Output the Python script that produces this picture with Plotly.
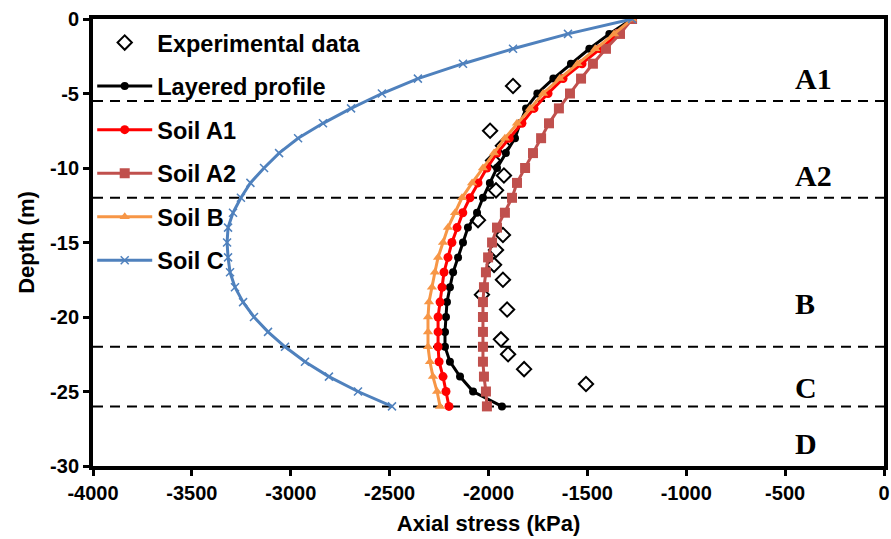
import plotly.graph_objects as go

# ---------------- data ----------------
depth = [0, -1, -2, -3, -4, -5, -6, -7, -8, -9, -10, -11, -12, -13, -14, -15, -16,
         -17, -18, -19, -20, -21, -22, -23, -24, -25, -26]

layered_profile = [-1274, -1389, -1490, -1583, -1672, -1753, -1810, -1840, -1866, -1912,
                   -1957, -1993, -2028, -2058, -2104, -2129, -2154, -2179, -2195, -2210,
                   -2215, -2220, -2220, -2195, -2144, -2078, -1932]

soil_a1 = [-1274, -1345, -1435, -1527, -1623, -1699, -1770, -1831, -1895, -1957,
           -2008, -2053, -2094, -2130, -2159, -2185, -2205, -2225, -2235, -2245,
           -2255, -2255, -2255, -2250, -2230, -2215, -2200]

soil_a2 = [-1274, -1335, -1406, -1472, -1532, -1588, -1644, -1694, -1734, -1775,
           -1815, -1856, -1881, -1917, -1957, -1982, -2002, -2013, -2023, -2028,
           -2028, -2028, -2028, -2028, -2023, -2013, -2008]

soil_b = [-1274, -1365, -1460, -1550, -1640, -1724, -1790, -1856, -1917, -1972,
          -2028, -2083, -2134, -2169, -2205, -2230, -2255, -2271, -2286, -2301,
          -2306, -2306, -2306, -2296, -2281, -2260, -2245]

soil_c = [-1274, -1598, -1876, -2129, -2357, -2539, -2695, -2837, -2963, -3059,
          -3135, -3204, -3252, -3292, -3317, -3322, -3317, -3307, -3282, -3241,
          -3186, -3115, -3029, -2928, -2807, -2660, -2488]

exp_depth = [-4.5, -7.5, -8.5, -9.5, -10.5, -11.5, -13.5, -14.5, -15.5, -16.5,
             -17.5, -18.5, -19.5, -21.5, -22.5, -23.5, -24.5]
exp_stress = [-1876, -1992, -1927, -1977, -1922, -1962, -2053, -1927, -1962, -1972,
              -1927, -2033, -1906, -1937, -1901, -1820, -1507]

layer_bounds = [-5.5, -12, -22, -26]
layer_names = ["A1", "A2", "B", "C", "D"]
layer_label_depth = [-4.0, -10.5, -19.1, -24.7, -28.5]
layer_label_x = -462

x_tick_vals = [-4000, -3500, -3000, -2500, -2000, -1500, -1000, -500, 0]
x_tick_text = ["-4000", "-3500", "-3000", "-2500", "-2000", "-1500", "-1000", "-500", "0"]
y_tick_vals = [0, -5, -10, -15, -20, -25, -30]
y_tick_text = ["0", "-5", "-10", "-15", "-20", "-25", "-30"]

# ---------------- figure ----------------
SANS = "Arial, 'Liberation Sans', sans-serif"
SERIF = "'Times New Roman', 'Liberation Serif', serif"

fig = go.Figure()

fig.add_trace(go.Scatter(
    x=exp_stress, y=exp_depth, mode="markers", name="Experimental data",
    legendgroup="g0",
    marker=dict(symbol="diamond-open", size=11, color="black", line=dict(width=2, color="black"))))

fig.add_trace(go.Scatter(
    x=layered_profile, y=depth, mode="lines+markers", name="Layered profile",
    legendgroup="g1",
    line=dict(color="black", width=3),
    marker=dict(symbol="circle", size=8, color="black")))

fig.add_trace(go.Scatter(
    x=soil_a1, y=depth, mode="lines+markers", name="Soil A1",
    legendgroup="g2",
    line=dict(color="#FF0000", width=3),
    marker=dict(symbol="circle", size=9, color="#FF0000")))

fig.add_trace(go.Scatter(
    x=soil_a2, y=depth, mode="lines+markers", name="Soil A2",
    legendgroup="g3",
    line=dict(color="#C0504D", width=3),
    marker=dict(symbol="square", size=10, color="#C0504D")))

fig.add_trace(go.Scatter(
    x=soil_b, y=depth, mode="lines+markers", name="Soil B",
    legendgroup="g4",
    line=dict(color="#F79646", width=3),
    marker=dict(symbol="triangle-up", size=9, color="#F79646")))

fig.add_trace(go.Scatter(
    x=soil_c, y=depth, mode="lines+markers", name="Soil C",
    legendgroup="g5",
    line=dict(color="#4F81BD", width=3),
    marker=dict(symbol="x-thin", size=8, color="#4F81BD", line=dict(width=1.5, color="#4F81BD"))))

for yb in layer_bounds:
    fig.add_shape(type="line", xref="x", yref="y", x0=-4000, x1=0, y0=yb, y1=yb,
                  line=dict(color="black", width=2, dash="10px,7px"), layer="below")

for name, yl in zip(layer_names, layer_label_depth):
    fig.add_annotation(x=layer_label_x, y=yl, text=name, showarrow=False,
                       xanchor="left", yanchor="middle",
                       font=dict(family=SERIF, size=30, color="black", weight="bold"))

axis_common = dict(
    showline=True, linecolor="black", linewidth=4, mirror=True,
    ticks="outside", ticklen=6, tickwidth=3, tickcolor="black",
    showgrid=False, zeroline=False, automargin=False,
    tickfont=dict(family=SANS, size=20, color="black", weight="bold"),
)

fig.update_xaxes(range=[-4000, 0], tickmode="array", tickvals=x_tick_vals, ticktext=x_tick_text,
                 title=dict(text="Axial stress (kPa)", standoff=14,
                            font=dict(family=SANS, size=22, color="black", weight="bold")),
                 **axis_common)
fig.update_yaxes(range=[-30, 0], tickmode="array", tickvals=y_tick_vals, ticktext=y_tick_text,
                 title=dict(text="Depth (m)", standoff=10,
                            font=dict(family=SANS, size=22, color="black", weight="bold")),
                 **axis_common)

fig.update_layout(
    width=891, height=539,
    margin=dict(l=93, r=7, t=19, b=73, autoexpand=False),
    paper_bgcolor="white", plot_bgcolor="white",
    showlegend=True,
    legend=dict(x=-0.001, y=0.996, xanchor="left", yanchor="top",
                bgcolor="rgba(0,0,0,0)", borderwidth=0,
                font=dict(family=SANS, size=23.5, color="black", weight="bold"),
                itemwidth=55, tracegroupgap=10, traceorder="grouped"),
)

# remove the default 8 px page margin so the figure fills the 891x539 window exactly
fig.write_html("out.html", config={"displayModeBar": False},
               post_script="document.body.style.margin='0px';")
